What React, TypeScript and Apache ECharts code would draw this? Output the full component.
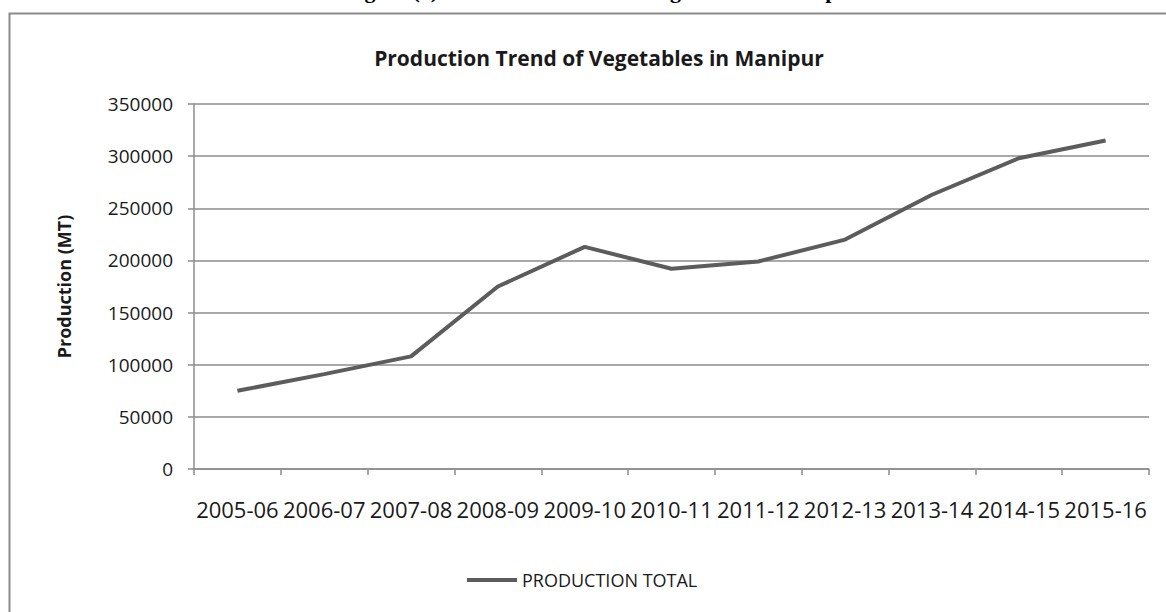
import React, { useEffect, useRef } from "react";
import * as echarts from "echarts";

const categories = [
  "2005-06", "2006-07", "2007-08", "2008-09", "2009-10", "2010-11",
  "2011-12", "2012-13", "2013-14", "2014-15", "2015-16",
];
const productionTotal = [
  75000, 91000, 108000, 175000, 213000, 192000,
  199000, 220000, 263000, 298000, 315000,
];
const yTicks = { min: 0, max: 350000, interval: 50000 };
const seriesName = "PRODUCTION TOTAL";
const chartTitle = "Production Trend of Vegetables in Manipur";
const yAxisName = "Production (MT)";
const captionText = "Figure (1): Production Trend of Vegetables in Manipur";

export default function App() {
  const ref = useRef<HTMLDivElement>(null);
  useEffect(() => {
    if (!ref.current) return;
    const chart = echarts.init(ref.current, null, { renderer: "svg" });
    const grey = "#8c8c8c";
    chart.setOption({
      animation: false,
      backgroundColor: "#ffffff",
      title: {
        text: chartTitle,
        left: 594,
        textAlign: "center",
        top: 42,
        textStyle: {
          fontFamily: "Open Sans",
          fontWeight: "bold",
          fontSize: 21,
          color: "#1a1a1a",
        },
      },
      graphic: [
        {
          type: "rect",
          shape: { x: 9.5, y: 13.5, width: 1200, height: 700 },
          style: { fill: "none", stroke: "#8a8a8a", lineWidth: 2 },
          silent: true,
        },
        {
          type: "text",
          x: 345,
          y: -10,
          style: {
            text: captionText,
            fontFamily: "Liberation Serif",
            fontWeight: "bold",
            fontSize: 22,
            fill: "#000",
            verticalAlign: "middle",
          },
          silent: true,
        },
      ],
      legend: {
        data: [{ name: seriesName, icon: "rect" }],
        left: 462,
        top: 566,
        itemWidth: 50,
        itemHeight: 4,
        textStyle: {
          fontFamily: "Open Sans",
          fontSize: 18,
          color: "#1a1a1a",
        },
      },
      grid: { left: 194, right: 17, top: 104, bottom: 143, containLabel: false },
      xAxis: {
        type: "category",
        data: categories,
        boundaryGap: true,
        axisLine: { lineStyle: { color: grey, width: 1.5 } },
        axisTick: { show: true, alignWithLabel: false, length: 6, lineStyle: { color: grey, width: 1.5 } },
        axisLabel: {
          interval: 0,
          hideOverlap: false,
          margin: 29,
          fontFamily: "Open Sans",
          fontSize: 22,
          color: "#1a1a1a",
        },
      },
      yAxis: {
        type: "value",
        min: yTicks.min,
        max: yTicks.max,
        interval: yTicks.interval,
        name: yAxisName,
        nameLocation: "middle",
        nameGap: 121,
        nameRotate: 90,
        nameTextStyle: {
          fontFamily: "Open Sans",
          fontWeight: "bold",
          fontSize: 18,
          color: "#1a1a1a",
        },
        axisLine: { show: true, lineStyle: { color: grey, width: 1.5 } },
        axisTick: { show: true, length: 6, lineStyle: { color: grey, width: 1.5 } },
        splitLine: { show: true, lineStyle: { color: grey, width: 1.5 } },
        axisLabel: {
          margin: 21,
          fontFamily: "Open Sans",
          fontSize: 19,
          color: "#1a1a1a",
          formatter: (v: number) => String(v),
        },
      },
      series: [
        {
          name: seriesName,
          type: "line",
          data: productionTotal,
          symbol: "none",
          lineStyle: { color: "#5c5c5c", width: 4 },
          itemStyle: { color: "#5c5c5c" },
        },
      ],
    });
    return () => chart.dispose();
  }, []);
  return (
    <div
      ref={ref}
      style={{ position: "absolute", left: 0, top: 0, width: 1166, height: 612 }}
    />
  );
}
